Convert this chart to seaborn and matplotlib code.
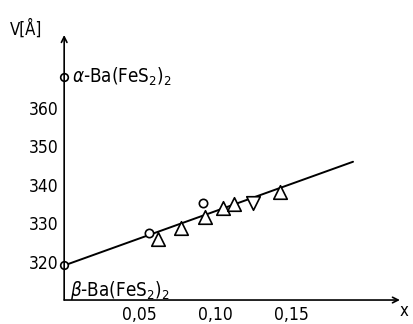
import matplotlib
matplotlib.use("Agg")
import matplotlib.pyplot as plt
import seaborn as sns

# values
circle_x = [0.056, 0.092]
circle_v = [327.5, 335.3]
up_x = [0.062, 0.077, 0.093, 0.105, 0.112, 0.143]
up_v = [326.0, 328.8, 331.5, 334.0, 335.0, 338.0]
down_x = [0.125]
down_v = [335.3]
alpha_v = 368.0
beta_v = 319.0
fit_x = [0.0, 0.191]
fit_v = [319.0, 346.0]

x_ticks = [0.05, 0.10, 0.15]
x_ticklabels = ["0,05", "0,10", "0,15"]
y_ticks = [320, 330, 340, 350, 360]

sns.set_style("white")
plt.rcParams['font.family'] = ['DejaVu Sans']
plt.rcParams['font.stretch'] = 'condensed'
plt.rcParams['mathtext.fontset'] = 'dejavusans'
plt.rcParams['text.color'] = 'black'

fig = plt.figure(figsize=(4.14, 3.24), dpi=100)
ax = fig.add_axes([0.155, 0.074, 0.811, 0.818])

sns.lineplot(x=fit_x, y=fit_v, ax=ax, color='black', linewidth=1.4, zorder=2)

pts = dict(facecolor='white', edgecolor='black', linewidth=1.2, zorder=3)
sns.scatterplot(x=circle_x, y=circle_v, marker='o', s=36, ax=ax, **pts)
sns.scatterplot(x=up_x, y=up_v, marker='^', s=95, ax=ax, **pts)
sns.scatterplot(x=down_x, y=down_v, marker='v', s=95, ax=ax, **pts)
sns.scatterplot(x=[0.0, 0.0], y=[alpha_v, beta_v], marker='o', s=30, ax=ax,
                clip_on=False, **pts)

ax.set_xlim(0, 0.222)
ax.set_ylim(310, 379)

for s in ax.spines.values():
    s.set_visible(False)
ax.annotate('', xy=(0, 1.0), xytext=(0, 0), xycoords='axes fraction',
            arrowprops=dict(arrowstyle='->', lw=1.2, color='black',
                            shrinkA=0, shrinkB=0))
ax.annotate('', xy=(1.0, 0), xytext=(0, 0), xycoords='axes fraction',
            arrowprops=dict(arrowstyle='->', lw=1.2, color='black',
                            shrinkA=0, shrinkB=0))

ax.set_xticks(x_ticks)
ax.set_xticklabels(x_ticklabels)
ax.set_yticks(y_ticks)
ax.tick_params(direction='in', length=5, width=1.2, color='black',
               labelsize=12.5, labelcolor='black', pad=4)

ax.text(0.005, alpha_v, r'$\alpha$-Ba(FeS$_2$)$_2$', fontsize=13.5,
        va='center', ha='left')
ax.text(0.004, 312.5, r'$\beta$-Ba(FeS$_2$)$_2$', fontsize=13.5,
        va='center', ha='left')

fig.text(0.025, 0.91, 'V[Å]', fontsize=12, ha='left', va='center')
fig.text(0.975, 0.04, 'x', fontsize=12, ha='center', va='center')

fig.savefig('out.png', dpi=100)
